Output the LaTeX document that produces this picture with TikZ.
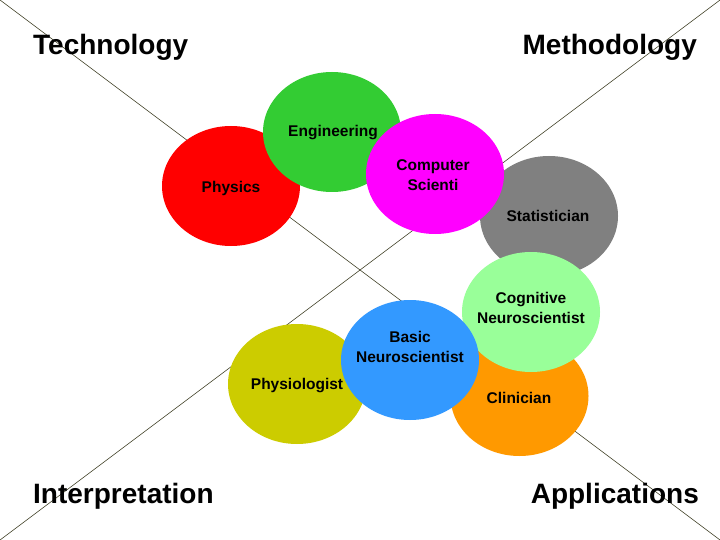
\documentclass[tikz,border=0pt]{standalone}
\usepackage{fontspec}
\setmainfont{Liberation Sans}
\usetikzlibrary{shapes.geometric}
\definecolor{cRed}{RGB}{255,0,0}
\definecolor{cGreen}{RGB}{51,204,51}
\definecolor{cMagenta}{RGB}{255,0,255}
\definecolor{cGray}{RGB}{128,128,128}
\definecolor{cLight}{RGB}{153,255,153}
\definecolor{cOrange}{RGB}{255,153,0}
\definecolor{cBlue}{RGB}{51,153,255}
\definecolor{cOlive}{RGB}{204,204,0}
\definecolor{linecol}{RGB}{70,70,45}
\begin{document}
\begin{tikzpicture}[x=1pt,y=-1pt,
  blob/.style={ellipse, minimum width=138pt, minimum height=120pt, inner sep=0pt, draw=none},
  lbl/.style={font=\bfseries\fontsize{15.5}{20}\selectfont, align=center, inner sep=0pt},
  big/.style={font=\bfseries\fontsize{28}{30}\selectfont, inner sep=0pt},
  axisline/.style={draw=linecol, line width=0.6pt}]
\useasboundingbox (0,0) rectangle (720,540);
\fill[white] (0,0) rectangle (720,540);
\coordinate (tl) at (0,0);
\coordinate (tr) at (720,0);
\coordinate (bl) at (0,540);
\coordinate (br) at (720,540);
\draw[axisline] (tl) -- (br);
\draw[axisline] (tr) -- (bl);
% ellipses
\node[blob, fill=cRed] (phys) at (231,186) {};
\node[blob, fill=cGreen] (eng) at (332,132) {};
\node[blob, fill=cGray] (stat) at (549,216) {};
\node[blob, fill=cMagenta] (comp) at (435,174) {};
\node[blob, fill=cOrange] (clin) at (519.5,396) {};
\node[blob, fill=cLight] (cogn) at (531,312) {};
\node[blob, fill=cOlive] (physio) at (297,384) {};
\node[blob, fill=cBlue] (basic) at (410,360) {};
% labels
\node[lbl] (tphys) at (231,188) {Physics};
\node[lbl] (teng) at (333,133) {Engineering};
\node[lbl] (tcomp) at (433,175) {Computer\\Scienti};
\node[lbl] (tstat) at (548,216) {Statistician};
\node[lbl] (tcogn) at (531,308) {Cognitive\\Neuroscientist};
\node[lbl] (tbasic) at (410,347) {Basic\\Neuroscientist};
\node[lbl] (tphysio) at (297,386) {Physiologist};
\node[lbl] (tclin) at (519,398) {Clinician};
% corner titles
\node[big, anchor=base west] (tech) at (33,55) {Technology};
\node[big, anchor=base east] (meth) at (697,55) {Methodology};
\node[big, anchor=base west] (interp) at (33,503) {Interpretation};
\node[big, anchor=base east] (appl) at (699,503) {Applications};
\end{tikzpicture}
\end{document}
